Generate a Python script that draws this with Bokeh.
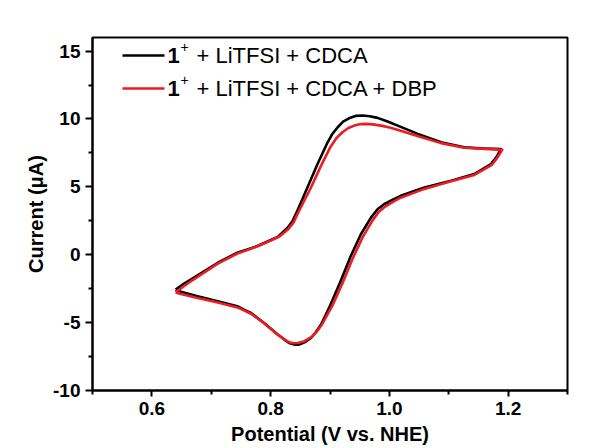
from bokeh.plotting import figure
from bokeh.models import FixedTicker, Range1d, Label, Arrow, ColumnDataSource
from bokeh.embed import file_html
from bokeh.resources import INLINE

# ---- data (potential in V vs NHE, current in uA) ----
# forward (anodic) branch from the left vertex, then reverse branch back to it
potential_black = [0.640, 0.652, 0.666, 0.711, 0.744, 0.778, 0.803, 0.812, 0.829, 0.837,
                   0.845, 0.862, 0.879, 0.896, 0.904, 0.913, 0.922, 0.932, 0.944, 0.955,
                   0.967, 0.980, 0.997, 1.014, 1.048, 1.087, 1.126, 1.160, 1.177, 1.188,
                   1.180, 1.171, 1.143, 1.104, 1.059, 1.019, 1.005, 0.991, 0.980, 0.969,
                   0.952, 0.935, 0.918, 0.901, 0.885, 0.876, 0.868, 0.857, 0.848, 0.840,
                   0.831, 0.823, 0.812, 0.789, 0.778, 0.767, 0.755, 0.744, 0.711, 0.677,
                   0.649, 0.640]
current_black = [-2.56, -2.19, -1.82, -0.59, 0.15, 0.64, 1.14, 1.31, 2.00, 2.49,
                 3.23, 4.95, 6.68, 8.28, 8.90, 9.39, 9.81, 10.05, 10.23, 10.25,
                 10.20, 10.08, 9.81, 9.51, 8.90, 8.28, 7.91, 7.83, 7.80, 7.79,
                 7.17, 6.68, 5.94, 5.45, 4.95, 4.34, 4.04, 3.72, 3.35, 2.73,
                 1.51, -0.10, -1.94, -3.67, -5.14, -5.71, -6.13, -6.45, -6.62, -6.62,
                 -6.50, -6.25, -5.88, -5.03, -4.66, -4.29, -4.04, -3.79, -3.42, -3.05,
                 -2.73, -2.56]

potential_red = [0.640, 0.652, 0.666, 0.711, 0.744, 0.778, 0.803, 0.815, 0.829, 0.839,
                 0.845, 0.868, 0.885, 0.901, 0.911, 0.921, 0.931, 0.941, 0.950, 0.960,
                 0.972, 0.986, 1.002, 1.019, 1.054, 1.087, 1.126, 1.160, 1.178, 1.190,
                 1.181, 1.172, 1.143, 1.104, 1.059, 1.019, 1.006, 0.993, 0.982, 0.972,
                 0.955, 0.938, 0.921, 0.904, 0.887, 0.878, 0.869, 0.857, 0.846, 0.838,
                 0.830, 0.822, 0.811, 0.789, 0.778, 0.767, 0.755, 0.744, 0.711, 0.677,
                 0.649, 0.640]
current_red = [-2.78, -2.38, -1.95, -0.65, 0.08, 0.62, 1.10, 1.35, 1.85, 2.40,
               2.98, 4.95, 6.56, 7.96, 8.60, 9.02, 9.33, 9.51, 9.61, 9.64,
               9.60, 9.51, 9.35, 9.14, 8.65, 8.22, 7.88, 7.80, 7.76, 7.72,
               7.10, 6.60, 5.88, 5.42, 4.85, 4.20, 3.90, 3.55, 3.15, 2.55,
               1.30, -0.30, -2.10, -3.75, -5.10, -5.65, -6.05, -6.37, -6.50, -6.52,
               -6.42, -6.20, -5.85, -5.05, -4.70, -4.35, -4.10, -3.88, -3.52, -3.18,
               -2.90, -2.78]

series_prefix = "1"
series_suffixes = ["+ LiTFSI + CDCA", "+ LiTFSI + CDCA + DBP"]

x_major_ticks = [0.6, 0.8, 1.0, 1.2]
x_tick_labels = ["0.6", "0.8", "1.0", "1.2"]
x_minor_ticks = [0.5, 0.7, 0.9, 1.1, 1.3]
y_major_ticks = [-10, -5, 0, 5, 10, 15]
y_tick_labels = ["-10", "-5", "0", "5", "10", "15"]
y_minor_ticks = [-7.5, -2.5, 2.5, 7.5, 12.5]

FONT = "Liberation Sans"
BLACK = "#000000"
RED = "#ec1c24"

p = figure(width=593, height=448, output_backend="svg", toolbar_location=None,
           x_range=Range1d(0.5, 1.3), y_range=Range1d(-10, 16),
           min_border_left=92, min_border_right=26, min_border_top=37, min_border_bottom=58)
p.background_fill_color = "white"
p.border_fill_color = "white"
p.outline_line_color = "black"
p.outline_line_width = 2
p.grid.visible = False

src_b = ColumnDataSource(dict(x=potential_black, y=current_black))
src_r = ColumnDataSource(dict(x=potential_red, y=current_red))
p.line("x", "y", source=src_b, line_color=BLACK, line_width=2.6, line_join="round")
p.line("x", "y", source=src_r, line_color=RED, line_width=2.6, line_join="round")

for ax in (p.xaxis[0], p.yaxis[0]):
    ax.axis_line_width = 2
    ax.major_tick_line_width = 2
    ax.minor_tick_line_width = 2
    ax.major_tick_in = 0
    ax.minor_tick_in = 0
    ax.major_label_text_font = FONT
    ax.major_label_text_font_style = "bold"
    ax.major_label_text_font_size = "19px"
    ax.major_label_text_color = "black"
    ax.axis_label_text_font = FONT
    ax.axis_label_text_font_style = "bold"
    ax.axis_label_text_font_size = "20px"
    ax.axis_label_text_color = "black"

p.xaxis.ticker = FixedTicker(ticks=x_major_ticks, minor_ticks=x_minor_ticks)
p.xaxis.major_label_overrides = {t: l for t, l in zip(x_major_ticks, x_tick_labels)}
p.xaxis.major_tick_out = 6
p.xaxis.minor_tick_out = 4
p.xaxis.major_label_standoff = 5
p.xaxis.axis_label = "Potential (V vs. NHE)"
p.xaxis.axis_label_standoff = 5

p.yaxis.ticker = FixedTicker(ticks=y_major_ticks, minor_ticks=y_minor_ticks)
p.yaxis.major_label_overrides = {t: l for t, l in zip(y_major_ticks, y_tick_labels)}
p.yaxis.major_tick_out = 7
p.yaxis.minor_tick_out = 4
p.yaxis.major_label_standoff = 5
p.yaxis.axis_label = "Current (\u03bcA)"
p.yaxis.axis_label_standoff = 3

# ---- legend (screen units, relative to the plot frame) ----
row_y = [335, 302]
colors = [BLACK, RED]
for ry, col, suffix in zip(row_y, colors, series_suffixes):
    p.add_layout(Arrow(end=None, x_start=30, y_start=ry, x_end=72, y_end=ry,
                       start_units="screen", end_units="screen",
                       line_color=col, line_width=2.6))
    p.add_layout(Label(x=75, y=ry, x_units="screen", y_units="screen", text=series_prefix,
                       text_font=FONT, text_font_style="bold", text_font_size="22px",
                       text_baseline="middle", text_color="black"))
    p.add_layout(Label(x=88, y=ry + 9, x_units="screen", y_units="screen", text="+",
                       text_font=FONT, text_font_size="14px",
                       text_baseline="middle", text_color="black"))
    p.add_layout(Label(x=104, y=ry, x_units="screen", y_units="screen", text=suffix,
                       text_font=FONT, text_font_size="22px",
                       text_baseline="middle", text_color="black"))

open("out.html", "w").write(file_html(p, INLINE))
